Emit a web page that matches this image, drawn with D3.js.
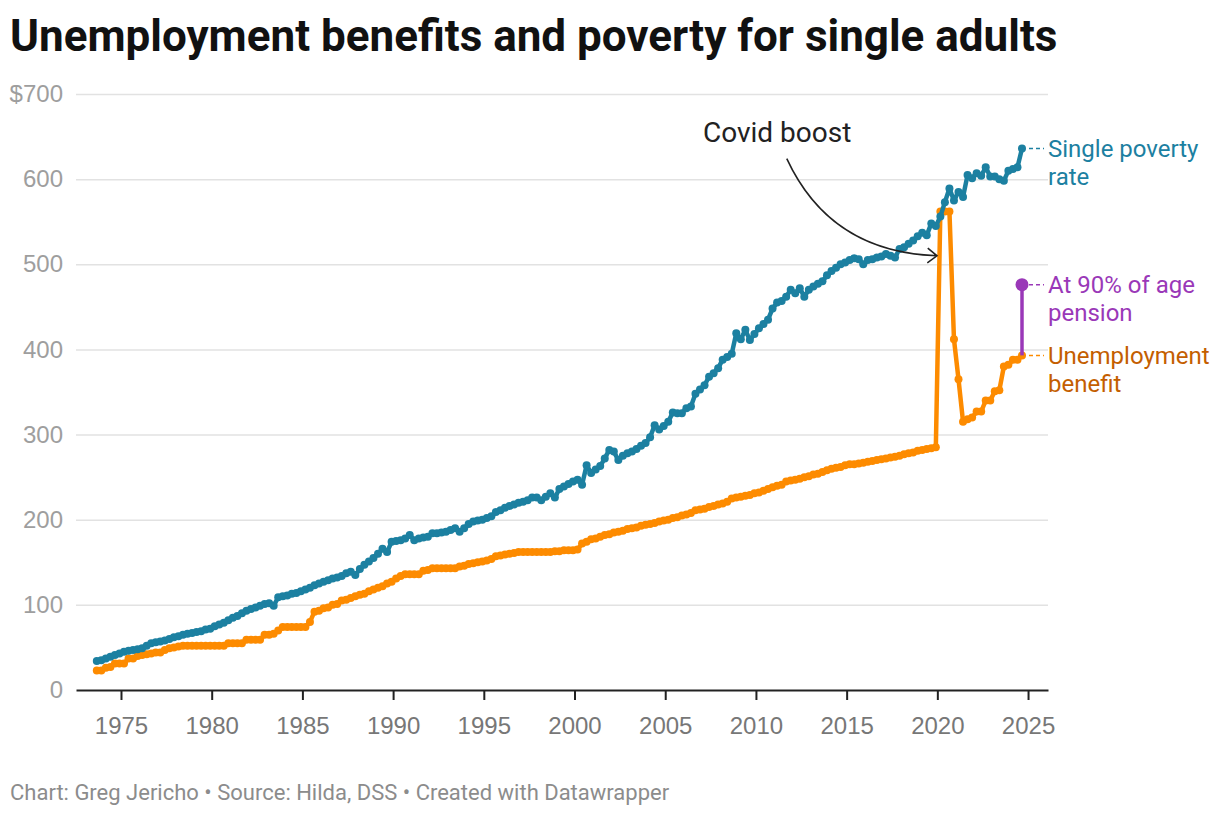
<!DOCTYPE html>
<html lang="en">
<head>
<meta charset="UTF-8">
<title>Unemployment benefits and poverty for single adults</title>
<script src="https://d3js.org/d3.v7.min.js"></script>
<style>
  body { margin: 0; background: #fff; }
  svg { font-family: Roboto, "Noto Sans", sans-serif; }
  .gridlines line { stroke: #e2e2e2; stroke-width: 1.5; }
  .gridlines .domain { display: none; }
  .gridlines text { fill: #9e9e9e; font-size: 24px; }
  .x.axis .domain, .x.axis line { stroke: #222; stroke-width: 2; }
  .x.axis text { fill: #777; font-size: 24px; }
</style>
</head>
<body>
<svg id="chart" width="1220" height="816"></svg>
<script>
// quarterly observations, Sep 1973 .. Sep 2024 (Mar/Jun/Sep/Dec)
const firstQuarter = new Date(1973, 8, 1);
const lastQuarter = new Date(2024, 8, 1);

const yearTicks = [1975, 1980, 1985, 1990, 1995, 2000, 2005, 2010, 2015, 2020, 2025];
const valueTicks = [0, 100, 200, 300, 400, 500, 600, 700];

// weekly $, one row per year
const povertyRate = [
  34, 35,
  37, 39, 41, 43,
  45, 46, 47, 48,
  49, 52, 55, 56,
  57, 58, 60, 62,
  63, 65, 66, 67,
  68, 69, 71, 72,
  75, 77, 79, 82,
  85, 87, 90, 93,
  95, 97, 99, 101,
  102, 99, 109, 110,
  111, 113, 114, 116,
  118, 120, 123, 125,
  127, 129, 131, 132,
  134, 137, 139, 135,
  142, 147, 151, 155,
  160, 166, 162, 174,
  175, 176, 178, 182,
  176, 178, 179, 180,
  184, 184, 185, 186,
  188, 190, 186, 190,
  195, 198, 199, 200,
  202, 204, 209, 211,
  214, 216, 218, 220,
  221, 223, 226, 226,
  223, 227, 231, 226,
  236, 239, 242, 245,
  247, 241, 264, 255,
  259, 263, 272, 282,
  280, 270, 275, 278,
  280, 283, 287, 290,
  297, 311, 306, 310,
  315, 326, 325, 325,
  331, 333, 348, 353,
  358, 368, 372, 378,
  388, 391, 395, 419,
  412, 423, 411, 418,
  425, 430, 435, 448,
  455, 457, 462, 470,
  466, 472, 462, 470,
  474, 477, 480, 487,
  492, 496, 500, 502,
  505, 507, 506, 500,
  505, 506, 508, 509,
  512, 510, 508, 518,
  520, 524, 528, 533,
  537, 534, 548, 545,
  556, 573, 589, 575,
  585, 579, 605, 601,
  607, 604, 614, 603,
  603, 600, 598, 610,
  612, 614, 636
];

const unemploymentBenefit = [
  23, 23,
  26, 27, 31, 31,
  31, 37, 37, 40,
  41, 42, 43, 44,
  44, 47, 49, 50,
  51, 52, 52, 52,
  52, 52, 52, 52,
  52, 52, 52, 55,
  55, 55, 55, 59,
  59, 59, 59, 65,
  65, 66, 70, 74,
  74, 74, 74, 74,
  74, 80, 92, 93,
  96, 97, 100, 101,
  105, 106, 108, 110,
  112, 113, 116, 118,
  120, 122, 125, 127,
  131, 134, 136, 136,
  136, 136, 140, 141,
  143, 143, 143, 143,
  143, 143, 145, 146,
  148, 149, 150, 151,
  152, 154, 157, 158,
  159, 160, 161, 162,
  162, 162, 162, 162,
  162, 162, 162, 163,
  163, 164, 164, 164,
  165, 172, 174, 177,
  178, 180, 182, 183,
  185, 186, 187, 189,
  190, 191, 193, 194,
  195, 196, 198, 199,
  200, 202, 203, 205,
  206, 208, 211, 212,
  213, 215, 216, 218,
  219, 221, 225, 226,
  227, 228, 229, 231,
  232, 234, 236, 238,
  240, 241, 245, 246,
  247, 248, 250, 251,
  253, 254, 256, 258,
  260, 261, 262, 264,
  265, 265, 266, 267,
  268, 269, 270, 271,
  272, 273, 274, 275,
  277, 278, 279, 281,
  282, 283, 284, 285,
  562, 562, 562, 412,
  365, 315, 318, 320,
  327, 327, 340, 340,
  351, 352, 380, 382,
  388, 388, 393
];

const agePension90 = 476;   // Sep 2024

const svg = d3.select("#chart");
const margin = { top: 94, right: 172, bottom: 126, left: 76 };
const width = +svg.attr("width");
const height = +svg.attr("height");
const plotRight = width - margin.right;
const plotBottom = height - margin.bottom;

const dates = d3.timeMonth.range(firstQuarter, d3.timeMonth.offset(lastQuarter, 1), 3);
const decYear = d => d.getFullYear() + d.getMonth() / 12;

const x = d3.scaleLinear().domain([1972.52, 2026.1]).range([margin.left, plotRight]);
const y = d3.scaleLinear().domain([0, 700]).range([plotBottom, margin.top]);

// title + footer
svg.append("text")
  .attr("x", 10).attr("y", 51)
  .style("font-size", "44px").style("font-weight", "bold").style("fill", "#111")
  .text("Unemployment benefits and poverty for single adults");

svg.append("text")
  .attr("x", 10).attr("y", 800)
  .style("font-size", "22px").style("fill", "#8c8c8c")
  .text("Chart: Greg Jericho \u2022 Source: Hilda, DSS \u2022 Created with Datawrapper");

// y gridlines with labels
const yGrid = d3.axisLeft(y)
  .tickValues(valueTicks)
  .tickSize(-(plotRight - margin.left))
  .tickPadding(13)
  .tickFormat(d => d === 700 ? "$700" : d);
const gy = svg.append("g").attr("class", "gridlines")
  .attr("transform", `translate(${margin.left},0)`)
  .call(yGrid);
gy.selectAll(".tick").filter(d => d === 0).select("line").remove();

// x axis
const xAxis = d3.axisBottom(x)
  .tickValues(yearTicks)
  .tickSize(10)
  .tickSizeOuter(0)
  .tickPadding(17)
  .tickFormat(d3.format("d"));
svg.append("g").attr("class", "x axis")
  .attr("transform", `translate(0,${plotBottom})`)
  .call(xAxis);

// series
const series = [
  { name: "benefit", values: unemploymentBenefit, color: "#fd8b00", label: ["Unemployment", "benefit"], labelColor: "#c45e00" },
  { name: "poverty", values: povertyRate, color: "#1c80a1", label: ["Single poverty", "rate"], labelColor: "#1c80a1" }
];

const line = d3.line().x(d => x(d.t)).y(d => y(d.v));

series.forEach(s => {
  const pts = s.values.map((v, i) => ({ t: decYear(dates[i]), v: v }));
  s.pts = pts;
  const g = svg.append("g");
  g.append("path")
    .datum(pts)
    .attr("fill", "none")
    .attr("stroke", s.color)
    .attr("stroke-width", 4.5)
    .attr("stroke-linejoin", "round")
    .attr("d", line);
  g.selectAll("circle").data(pts).join("circle")
    .attr("cx", d => x(d.t))
    .attr("cy", d => y(d.v))
    .attr("r", 4)
    .attr("fill", s.color);
});

// 90% of age pension marker
const lastB = series[0].pts[series[0].pts.length - 1];
const pension = [lastB, { t: lastB.t, v: agePension90 }];
svg.append("path")
  .datum(pension)
  .attr("fill", "none")
  .attr("stroke", "#9a38b8")
  .attr("stroke-width", 3.5)
  .attr("d", line);
svg.append("circle")
  .attr("cx", x(lastB.t)).attr("cy", y(agePension90))
  .attr("r", 6.5).attr("fill", "#9a38b8");

// direct labels
const labels = [
  { pt: series[1].pts[series[1].pts.length - 1], lines: series[1].label, color: series[1].labelColor, dash: series[1].color },
  { pt: { t: lastB.t, v: agePension90 }, lines: ["At 90% of age", "pension"], color: "#9a38b8", dash: "#9a38b8" },
  { pt: lastB, lines: series[0].label, color: series[0].labelColor, dash: series[0].color }
];
const labelX = plotRight;
labels.forEach(l => {
  const cy = y(l.pt.v);
  svg.append("line")
    .attr("x1", x(l.pt.t) + 7).attr("x2", labelX - 4)
    .attr("y1", cy).attr("y2", cy)
    .attr("stroke", l.dash).attr("stroke-width", 1.5)
    .attr("stroke-dasharray", "4,3");
  const t = svg.append("text")
    .attr("x", labelX).attr("y", cy)
    .style("font-size", "24px").style("fill", l.color);
  l.lines.forEach((s, i) => {
    t.append("tspan").attr("x", labelX).attr("dy", i === 0 ? "0.35em" : "1.17em").text(s);
  });
});

// Covid boost annotation
const note = { text: "Covid boost", at: [2007.08, 644], from: [2011.7, 624], via: [2014.1, 514], to: [2019.98, 510] };
svg.append("text")
  .attr("x", x(note.at[0])).attr("y", y(note.at[1]))
  .style("font-size", "28px").style("fill", "#222")
  .text(note.text);

const p0 = [x(note.from[0]), y(note.from[1])];
const pc = [x(note.via[0]), y(note.via[1])];
const p1 = [x(note.to[0]), y(note.to[1])];
const arrow = d3.path();
arrow.moveTo(p0[0], p0[1]);
arrow.quadraticCurveTo(pc[0], pc[1], p1[0], p1[1]);
const ang = Math.atan2(p1[1] - pc[1], p1[0] - pc[0]);
const head = 12, spread = 38 * Math.PI / 180;
arrow.moveTo(p1[0] - head * Math.cos(ang - spread), p1[1] - head * Math.sin(ang - spread));
arrow.lineTo(p1[0], p1[1]);
arrow.lineTo(p1[0] - head * Math.cos(ang + spread), p1[1] - head * Math.sin(ang + spread));
svg.append("path")
  .attr("d", arrow.toString())
  .attr("fill", "none")
  .attr("stroke", "#222")
  .attr("stroke-width", 1.6);
</script>
</body>
</html>
